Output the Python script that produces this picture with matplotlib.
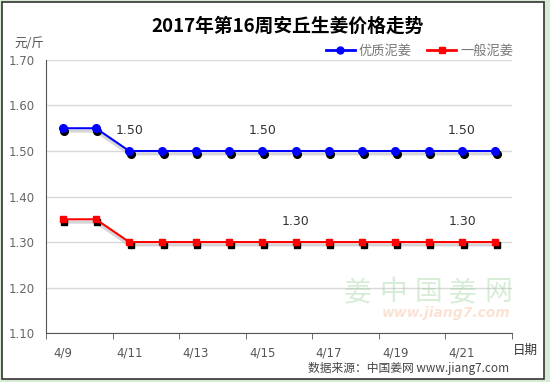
import matplotlib
matplotlib.use('Agg')
import matplotlib.pyplot as plt
from matplotlib.patches import Rectangle
from matplotlib.transforms import ScaledTranslation

plt.rcParams['font.family'] = ['Noto Sans CJK SC', 'DejaVu Sans']

# data
dates = ['4/9', '4/10', '4/11', '4/12', '4/13', '4/14', '4/15',
         '4/16', '4/17', '4/18', '4/19', '4/20', '4/21', '4/22']
good = [1.55, 1.55, 1.50, 1.50, 1.50, 1.50, 1.50,
        1.50, 1.50, 1.50, 1.50, 1.50, 1.50, 1.50]
normal = [1.35, 1.35, 1.30, 1.30, 1.30, 1.30, 1.30,
          1.30, 1.30, 1.30, 1.30, 1.30, 1.30, 1.30]
good_labels = ['4/11', '4/15', '4/21']
normal_labels = ['4/16', '4/21']
y_ticks = [1.10, 1.20, 1.30, 1.40, 1.50, 1.60, 1.70]

fig = plt.figure(figsize=(5.5, 3.82), dpi=100)
fig.patch.set_facecolor('#d7ecd5')
fig.patches.append(Rectangle((0.003, 0.008), 0.986, 0.986, transform=fig.transFigure,
                             facecolor='white', edgecolor='#333333', linewidth=1.2, zorder=-1))

ax = fig.add_axes([0.0836, 0.128, 0.8473, 0.715])
ax.set_facecolor('white')
x = list(range(len(dates)))

shadow = ax.transData + ScaledTranslation(1.5 / 100, -3 / 100, fig.dpi_scale_trans)
lshadow = ax.transData + ScaledTranslation(0, -3 / 100, fig.dpi_scale_trans)

for vals, color, marker, ms in [(good, '#0000ff', 'o', 5.5), (normal, '#ff0000', 's', 5)]:
    ax.plot(x, vals, color='#bbbbbb', lw=2, alpha=0.6, transform=lshadow, zorder=2)
    ax.plot(x, vals, ls='none', marker=marker, ms=ms, color='black', transform=shadow, zorder=3)
    ax.plot(x, vals, color=color, lw=1.5, marker=marker, ms=ms, zorder=4)

for d in good_labels:
    i = dates.index(d)
    ax.annotate(f'{good[i]:.2f}', (i, good[i]), xytext=(0, 10), textcoords='offset points',
                ha='center', va='bottom', fontsize=9, color='#333333',
                family=['DejaVu Sans'])
for d in normal_labels:
    i = dates.index(d)
    ax.annotate(f'{normal[i]:.2f}', (i, normal[i]), xytext=(0, 10), textcoords='offset points',
                ha='center', va='bottom', fontsize=9, color='#333333',
                family=['DejaVu Sans'])

ax.set_xlim(-0.5, len(dates) - 0.5)
ax.set_ylim(1.10, 1.70)
ax.set_yticks(y_ticks)
ax.set_yticklabels([f'{v:.2f}' for v in y_ticks], family=['DejaVu Sans'])
ax.set_xticks(x[::2])
ax.set_xticklabels(dates[::2], family=['DejaVu Sans'])
ax.set_xticks([i - 0.5 for i in range(0, len(dates) + 1, 2)], minor=True)
ax.tick_params(axis='x', which='major', length=0, pad=10, labelsize=8.5, labelcolor='#555555')
ax.tick_params(axis='x', which='minor', length=4, color='#555555', direction='out')
ax.tick_params(axis='y', length=0, pad=8, labelsize=8.5, labelcolor='#666666')
ax.grid(axis='y', color='#d9d9d9', lw=1)
ax.set_axisbelow(True)
for s in ['top', 'right']:
    ax.spines[s].set_visible(False)
for s in ['left', 'bottom']:
    ax.spines[s].set_color('#555555')

fig.text(0.522, 0.93, '2017年第16周安丘生姜价格走势', ha='center', va='center',
         fontsize=13.5, fontweight='bold', color='black')
fig.text(0.026, 0.885, '元/斤', fontsize=9, color='#555555', va='center')
fig.text(0.933, 0.083, '日期', fontsize=9, color='#333333', va='center')
fig.text(0.56, 0.035, '数据来源：中国姜网 www.jiang7.com', fontsize=8.5, color='#444444', va='center')

# watermark
for k, ch in enumerate('姜中国姜网'):
    fig.text((358 + 35 * k) / 550, 1 - 292 / 382, ch, fontsize=20, color='#8fcc8f',
             alpha=0.35, ha='center', va='center')
fig.text(382 / 550, 1 - 313 / 382, 'www.jiang7.com', fontsize=10, color='#f4a070', alpha=0.3,
         fontweight='bold', style='italic', va='center', family=['DejaVu Sans'])

handles = [plt.Line2D([], [], color='#0000ff', lw=2, marker='o', ms=5),
           plt.Line2D([], [], color='#ff0000', lw=2, marker='s', ms=5)]
leg = fig.legend(handles, ['优质泥姜', '一般泥姜'], loc='center right',
                 bbox_to_anchor=(0.955, 0.865), ncol=2, frameon=False, fontsize=9.5,
                 handlelength=2.2, columnspacing=1.2, handletextpad=0.3)
for t in leg.get_texts():
    t.set_color('#777777')

fig.savefig('out.png', dpi=100, facecolor=fig.get_facecolor())
